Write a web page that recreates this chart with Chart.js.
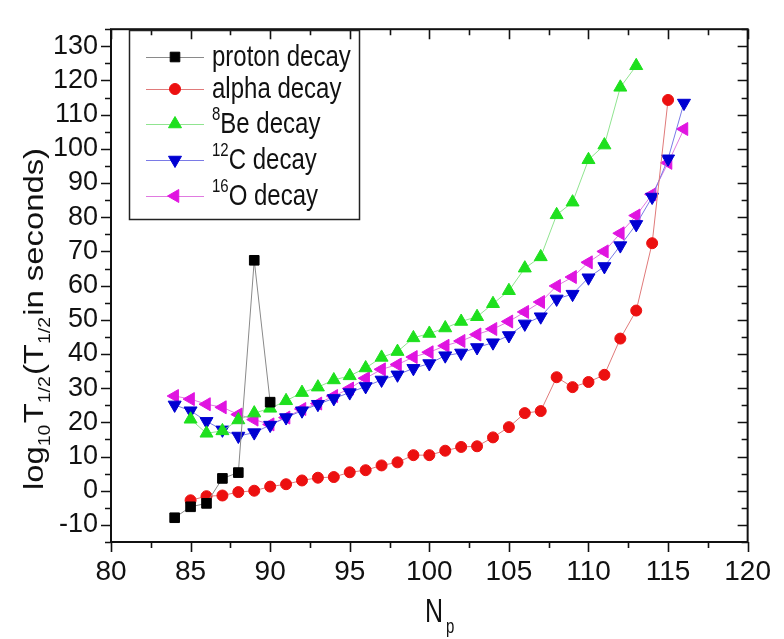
<!DOCTYPE html>
<html>
<head>
<meta charset="utf-8">
<script src="https://cdn.jsdelivr.net/npm/chart.js@4.4.1/dist/chart.umd.min.js"></script>
<style>
  body { margin: 0; background: #fff; }
  #wrap { width: 784px; height: 639px; position: relative; }
</style>
</head>
<body>
<div id="wrap"><canvas id="myChart"></canvas></div>
<script>
// values (N_p vs log10 T1/2)
var protonN = [84, 85, 86, 87, 88, 89, 90];
var protonT = [-7.9, -4.7, -3.7, 3.6, 5.3, 67.4, 25.9];

var alphaN = [85, 86, 87, 88, 89, 90, 91, 92, 93, 94, 95, 96, 97, 98, 99, 100,
              101, 102, 103, 104, 105, 106, 107, 108, 109, 110, 111, 112, 113, 114, 115];
var alphaT = [-2.8, -1.6, -1.4, -0.4, 0.0, 1.2, 1.9, 3.0, 3.8, 4.0, 5.4, 6.0, 7.4, 8.3, 10.4, 10.4,
              11.7, 12.8, 13.0, 15.6, 18.6, 22.7, 23.3, 33.2, 30.3, 31.8, 33.9, 44.5, 52.7, 72.4, 114.3];

var beN = [85, 86, 87, 88, 89, 90, 91, 92, 93, 94, 95, 96, 97, 98, 99, 100,
           101, 102, 103, 104, 105, 106, 107, 108, 109, 110, 111, 112, 113];
var beT = [20.9, 16.8, 17.5, 20.7, 22.7, 24.1, 26.3, 28.7, 30.3, 32.4, 33.6, 35.9, 39.0, 40.7, 44.7, 46.0,
           47.6, 49.5, 50.9, 54.7, 58.5, 65.1, 68.4, 80.7, 84.4, 96.8, 101.1, 118.0, 124.3];

var cN = [84, 85, 86, 87, 88, 89, 90, 91, 92, 93, 94, 95, 96, 97, 98, 99, 100,
          101, 102, 103, 104, 105, 106, 107, 108, 109, 110, 111, 112, 113, 114, 115, 116];
var cT = [25.1, 23.4, 20.3, 17.8, 16.0, 17.0, 19.2, 21.4, 23.4, 25.3, 27.0, 28.7, 30.5, 32.4, 33.9, 35.8, 37.2,
          39.5, 40.3, 41.9, 43.3, 45.4, 48.8, 50.9, 56.1, 57.5, 62.3, 65.6, 71.7, 77.9, 85.9, 97.1, 113.4];

var oN = [84, 85, 86, 87, 88, 89, 90, 91, 92, 93, 94, 95, 96, 97, 98, 99, 100,
          101, 102, 103, 104, 105, 106, 107, 108, 109, 110, 111, 112, 113, 114, 115, 116];
var oT = [27.7, 26.8, 25.3, 24.4, 22.3, 20.8, 19.4, 21.4, 23.9, 25.5, 27.7, 29.9, 32.9, 35.5, 36.9, 39.1, 40.5,
          42.4, 43.8, 45.7, 47.3, 49.5, 52.3, 55.2, 59.9, 62.5, 66.8, 70.0, 75.3, 80.5, 86.7, 95.9, 105.8];

var xTicks = [80, 85, 90, 95, 100, 105, 110, 115, 120];
var yTicks = [-10, 0, 10, 20, 30, 40, 50, 60, 70, 80, 90, 100, 110, 120, 130];

// legend text: [superscript, rest]
var legendLabels = [['', 'proton decay'], ['', 'alpha decay'], ['8', 'Be decay'], ['12', 'C decay'], ['16', 'O decay']];

var FONT = '"Liberation Sans", Arial, sans-serif';
var NARROW = '"Liberation Sans Narrow", "Arial Narrow", "Liberation Sans", sans-serif';

function pts(xs, ys) {
    return xs.map(function (x, i) { return { x: x, y: ys[i] }; });
}

function series(label, xs, ys, line, fill, style, rot, r) {
    return {
        label: label,
        data: pts(xs, ys),
        borderColor: line,
        borderWidth: 1,
        backgroundColor: fill,
        pointBackgroundColor: fill,
        pointBorderColor: fill,
        pointBorderWidth: 1,
        pointStyle: style,
        pointRotation: rot,
        pointRadius: r,
        pointHoverRadius: r,
        tension: 0,
        fill: false
    };
}

var datasets = [
    series('proton decay', protonN, protonT, '#8a8a8a', '#000000', 'rect', 0, 6.8),
    series('alpha decay', alphaN, alphaT, '#e07a7a', '#ec1010', 'circle', 0, 5.5),
    series('Be decay', beN, beT, '#90e490', '#1ee01e', 'triangle', 0, 7.5),
    series('C decay', cN, cT, '#7a7ae6', '#0000d2', 'triangle', 180, 7.5),
    series('O decay', oN, oT, '#e07ae0', '#e014e0', 'triangle', 270, 7.5)
];

// draw text stretched vertically like the source picture
function tallText(ctx, txt, x, y, font, sy) {
    ctx.save();
    ctx.translate(x, y);
    ctx.scale(1, sy);
    ctx.font = font;
    ctx.fillText(txt, 0, 0);
    ctx.restore();
    ctx.font = font;
    return ctx.measureText(txt).width;
}

// frame, Origin-like ticks, axis titles and legend
var decor = {
    id: 'decor',
    afterDraw: function (chart) {
        var ctx = chart.ctx;
        var a = chart.chartArea;
        var xs = chart.scales.x, ys = chart.scales.y;
        ctx.save();
        ctx.strokeStyle = '#111';
        ctx.lineWidth = 2;
        ctx.strokeRect(a.left, a.top, a.right - a.left, a.bottom - a.top);

        ctx.lineWidth = 1.6;
        ctx.beginPath();
        for (var v = 80; v <= 120; v += 2.5) {
            var px = Math.round(xs.getPixelForValue(v)) + 0.5;
            var major = v % 5 === 0;
            ctx.moveTo(px, a.bottom); ctx.lineTo(px, a.bottom + (major ? 10 : 6));
            ctx.moveTo(px, a.top); ctx.lineTo(px, a.top + (major ? 10 : 6));
        }
        for (var w = -15; w <= 135; w += 5) {
            var py = Math.round(ys.getPixelForValue(w)) + 0.5;
            var maj = w % 10 === 0;
            ctx.moveTo(a.left, py); ctx.lineTo(a.left - (maj ? 10 : 6), py);
            ctx.moveTo(a.right, py); ctx.lineTo(a.right - (maj ? 10 : 6), py);
        }
        ctx.stroke();

        // x title  N_p
        ctx.fillStyle = '#111';
        ctx.textBaseline = 'alphabetic';
        ctx.textAlign = 'left';
        tallText(ctx, 'N', 425, 622, '25px ' + FONT, 1.3);
        tallText(ctx, 'p', 446, 633, '15px ' + FONT, 1.3);

        // y title  log10 T1/2 (T1/2 in seconds) -- stretched along its length
        var parts = [['log', 0], ['10', 1], ['T', 0], ['1/2', 1], ['(T', 0], ['1/2', 1], ['in seconds)', 0]];
        var big = '27px ' + FONT, small = '16px ' + FONT;
        var total = 0;
        parts.forEach(function (p) { ctx.font = p[1] ? small : big; total += ctx.measureText(p[0]).width + (p[1] ? 1 : 0); });
        var stretch = 342 / total;
        ctx.translate(43, 319);
        ctx.rotate(-Math.PI / 2);
        ctx.scale(stretch, 1);
        var cx = -total / 2;
        parts.forEach(function (p) {
            ctx.font = p[1] ? small : big;
            ctx.fillText(p[0], cx, p[1] ? 7 : 0);
            cx += ctx.measureText(p[0]).width + (p[1] ? 1 : 0);
        });
        ctx.setTransform(1, 0, 0, 1, 0, 0);

        // legend box
        ctx.strokeStyle = '#222';
        ctx.lineWidth = 1.5;
        ctx.strokeRect(129.5, 30.5, 230, 189);
        var rows = [57, 89, 124, 160, 196];
        chart.data.datasets.forEach(function (ds, i) {
            var y = rows[i];
            ctx.strokeStyle = ds.borderColor;
            ctx.lineWidth = 1;
            ctx.beginPath();
            ctx.moveTo(146, y + 0.5); ctx.lineTo(204, y + 0.5);
            ctx.stroke();
            ctx.fillStyle = ds.pointBackgroundColor;
            ctx.strokeStyle = ds.pointBorderColor;
            Chart.helpers.drawPoint(ctx, { pointStyle: ds.pointStyle, rotation: ds.pointRotation, radius: ds.pointRadius, borderWidth: 1 }, 175, y);
            ctx.fillStyle = '#111';
            var tx = 212;
            var lab = legendLabels[i];
            if (lab[0]) {
                tx += tallText(ctx, lab[0], tx, y - 4, '15px ' + FONT, 1.25);
            }
            tallText(ctx, lab[1], tx, y + 9, '24px ' + FONT, 1.25);
        });
        ctx.restore();
    }
};

var ctx = document.getElementById('myChart').getContext('2d');
window.myChart = new Chart(ctx, {
    type: 'line',
    data: { datasets: datasets },
    options: {
        responsive: true,
        maintainAspectRatio: false,
        animation: false,
        layout: { padding: { left: 0, right: 24, top: 13, bottom: 0 } },
        plugins: { legend: { display: false }, tooltip: { enabled: false } },
        scales: {
            x: {
                type: 'linear', min: 80, max: 120,
                afterFit: function (s) { s.height = 97; },
                afterBuildTicks: function (s) { s.ticks = xTicks.map(function (v) { return { value: v }; }); },
                ticks: { padding: 13, color: '#111', font: { size: 28, family: NARROW }, maxRotation: 0 },
                grid: { display: false, drawTicks: false },
                border: { display: false }
            },
            y: {
                type: 'linear', min: -15, max: 135,
                afterFit: function (s) { s.width = 111; },
                afterBuildTicks: function (s) { s.ticks = yTicks.map(function (v) { return { value: v }; }); },
                ticks: { padding: 13, color: '#111', font: { size: 27, family: NARROW } },
                grid: { display: false, drawTicks: false },
                border: { display: false }
            }
        }
    },
    plugins: [decor]
});
</script>
</body>
</html>
